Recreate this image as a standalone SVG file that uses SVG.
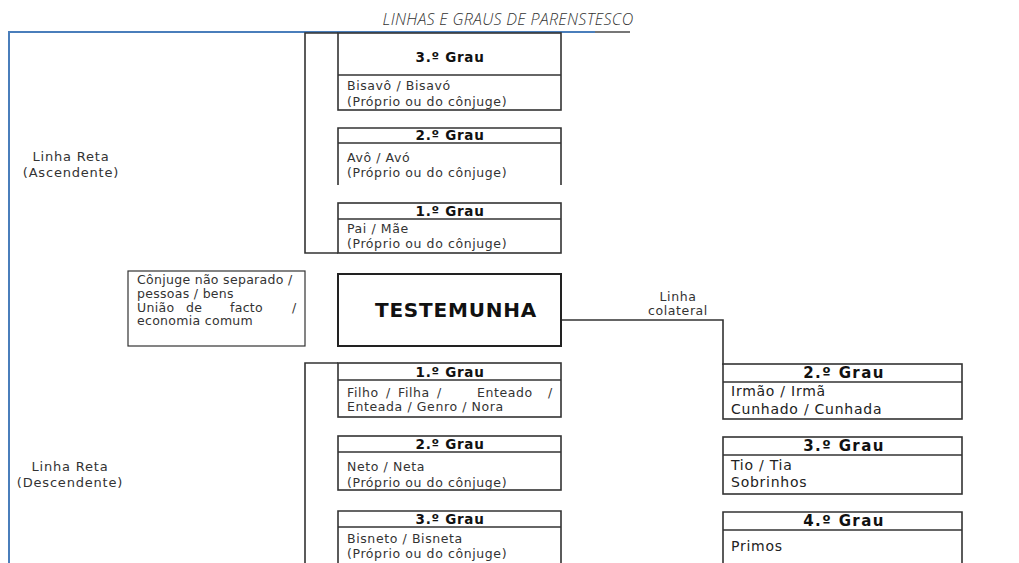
<svg xmlns="http://www.w3.org/2000/svg" width="1019" height="563" viewBox="0 0 1019 563">
<style>
.bx{fill:#fff;stroke:#333;stroke-width:1.6}
.ln{fill:none;stroke:#333;stroke-width:1.6}
.t{font-family:"DejaVu Sans",Verdana,sans-serif;font-size:12.5px;letter-spacing:0.6px;fill:#333}
.ts{font-family:"DejaVu Sans",Verdana,sans-serif;font-size:12.5px;letter-spacing:0.3px;fill:#333}
.tr{font-family:"DejaVu Sans",Verdana,sans-serif;font-size:14px;letter-spacing:0.75px;fill:#222}
.h{font-family:"DejaVu Sans",Verdana,sans-serif;font-size:13.5px;letter-spacing:0.7px;font-weight:bold;fill:#111;text-anchor:middle}
.hr{font-family:"DejaVu Sans",Verdana,sans-serif;font-size:15px;letter-spacing:1.4px;font-weight:bold;fill:#111;text-anchor:middle}
.lb{font-family:"DejaVu Sans",Verdana,sans-serif;font-size:13px;letter-spacing:0.8px;fill:#333;text-anchor:middle}
.lc{font-family:"DejaVu Sans",Verdana,sans-serif;font-size:12.5px;letter-spacing:0.6px;fill:#333;text-anchor:middle}
</style>
<rect width="1019" height="563" fill="#fff"/>
<text x="508" y="25" font-family="'Open Sans','Liberation Sans',sans-serif" font-size="16" font-style="italic" font-weight="300" letter-spacing="0.3" fill="#333" text-anchor="middle">LINHAS E GRAUS DE PARENSTESCO</text>
<g id="frame">
<line x1="8" y1="32" x2="595" y2="32" stroke="#4a7ebb" stroke-width="2"/>
<line x1="595" y1="32" x2="630" y2="32" stroke="#777" stroke-width="2"/>
<line x1="9" y1="32" x2="9" y2="563" stroke="#4a7ebb" stroke-width="2"/>
</g>
<g id="connectors">
<polyline class="ln" points="338,33 305,33 305,253 338,253"/>
<polyline class="ln" points="338,363 305,363 305,563"/>
<polyline class="ln" points="561,320 723,320 723,365"/>
</g>
<g id="label-ascendente">
<text class="lb" x="71" y="161">Linha Reta</text>
<text class="lb" x="71" y="177">(Ascendente)</text>
</g>
<g id="label-descendente">
<text class="lb" x="70" y="471">Linha Reta</text>
<text class="lb" x="70" y="487">(Descendente)</text>
</g>
<g id="label-colateral">
<text class="lc" x="678" y="301">Linha</text>
<text class="lc" x="678" y="315">colateral</text>
</g>
<g id="asc3">
<rect class="bx" x="338" y="33" width="223" height="77"/>
<line class="ln" x1="338" y1="75" x2="561" y2="75"/>
<text class="h" x="450" y="62">3.º Grau</text>
<text class="t" x="347" y="90">Bisavô / Bisavó</text>
<text class="t" x="347" y="106">(Próprio ou do cônjuge)</text>
</g>
<g id="asc2">
<polyline class="ln" points="338,185 338,128 561,128 561,185"/>
<line class="ln" x1="338" y1="143" x2="561" y2="143"/>
<text class="h" x="450" y="140">2.º Grau</text>
<text class="t" x="347" y="162">Avô / Avó</text>
<text class="t" x="347" y="177">(Próprio ou do cônjuge)</text>
</g>
<g id="asc1">
<rect class="bx" x="338" y="203" width="223" height="50"/>
<line class="ln" x1="338" y1="219" x2="561" y2="219"/>
<text class="h" x="450" y="216">1.º Grau</text>
<text class="t" x="347" y="233">Pai / Mãe</text>
<text class="t" x="347" y="248">(Próprio ou do cônjuge)</text>
</g>
<g id="conjuge">
<rect x="128" y="271" width="177" height="75" fill="#fff" stroke="#333" stroke-width="1.2"/>
<text class="ts" x="137" y="284">Cônjuge não separado /</text>
<text class="ts" x="137" y="298">pessoas / bens</text>
<text class="ts" y="312"><tspan x="137">União</tspan><tspan x="186">de</tspan><tspan x="230">facto</tspan><tspan x="292">/</tspan></text>
<text class="ts" x="137" y="325">economia comum</text>
</g>
<g id="testemunha">
<rect x="338" y="274" width="223" height="72" fill="#fff" stroke="#222" stroke-width="2"/>
<text x="456" y="317" font-family="'DejaVu Sans',Verdana,sans-serif" font-size="20" letter-spacing="0.8" font-weight="bold" fill="#111" text-anchor="middle">TESTEMUNHA</text>
</g>
<g id="desc1">
<rect class="bx" x="338" y="363" width="223" height="54"/>
<line class="ln" x1="338" y1="380" x2="561" y2="380"/>
<text class="h" x="450" y="377">1.º Grau</text>
<text class="t" y="397"><tspan x="347">Filho</tspan><tspan x="386">/</tspan><tspan x="398">Filha</tspan><tspan x="437">/</tspan><tspan x="477">Enteado</tspan><tspan x="548">/</tspan></text>
<text class="t" x="347" y="411">Enteada / Genro / Nora</text>
</g>
<g id="desc2">
<rect class="bx" x="338" y="436" width="223" height="54"/>
<line class="ln" x1="338" y1="452" x2="561" y2="452"/>
<text class="h" x="450" y="449">2.º Grau</text>
<text class="t" x="347" y="471">Neto / Neta</text>
<text class="t" x="347" y="487">(Próprio ou do cônjuge)</text>
</g>
<g id="desc3">
<polyline class="ln" points="338,564 338,511 561,511 561,564"/>
<line class="ln" x1="338" y1="527" x2="561" y2="527"/>
<text class="h" x="450" y="524">3.º Grau</text>
<text class="t" x="347" y="543">Bisneto / Bisneta</text>
<text class="t" x="347" y="558">(Próprio ou do cônjuge)</text>
</g>
<g id="col2">
<rect class="bx" x="723" y="364" width="239" height="55"/>
<line class="ln" x1="723" y1="382" x2="962" y2="382"/>
<text class="hr" x="844" y="378">2.º Grau</text>
<text class="tr" x="731" y="396">Irmão / Irmã</text>
<text class="tr" x="731" y="414">Cunhado / Cunhada</text>
</g>
<g id="col3">
<rect class="bx" x="723" y="437" width="239" height="57"/>
<line class="ln" x1="723" y1="455" x2="962" y2="455"/>
<text class="hr" x="844" y="451">3.º Grau</text>
<text class="tr" x="731" y="470">Tio / Tia</text>
<text class="tr" x="731" y="487">Sobrinhos</text>
</g>
<g id="col4">
<polyline class="ln" points="723,564 723,512 962,512 962,564"/>
<line class="ln" x1="723" y1="530" x2="962" y2="530"/>
<text class="hr" x="844" y="526">4.º Grau</text>
<text class="tr" x="731" y="551">Primos</text>
</g>
</svg>
